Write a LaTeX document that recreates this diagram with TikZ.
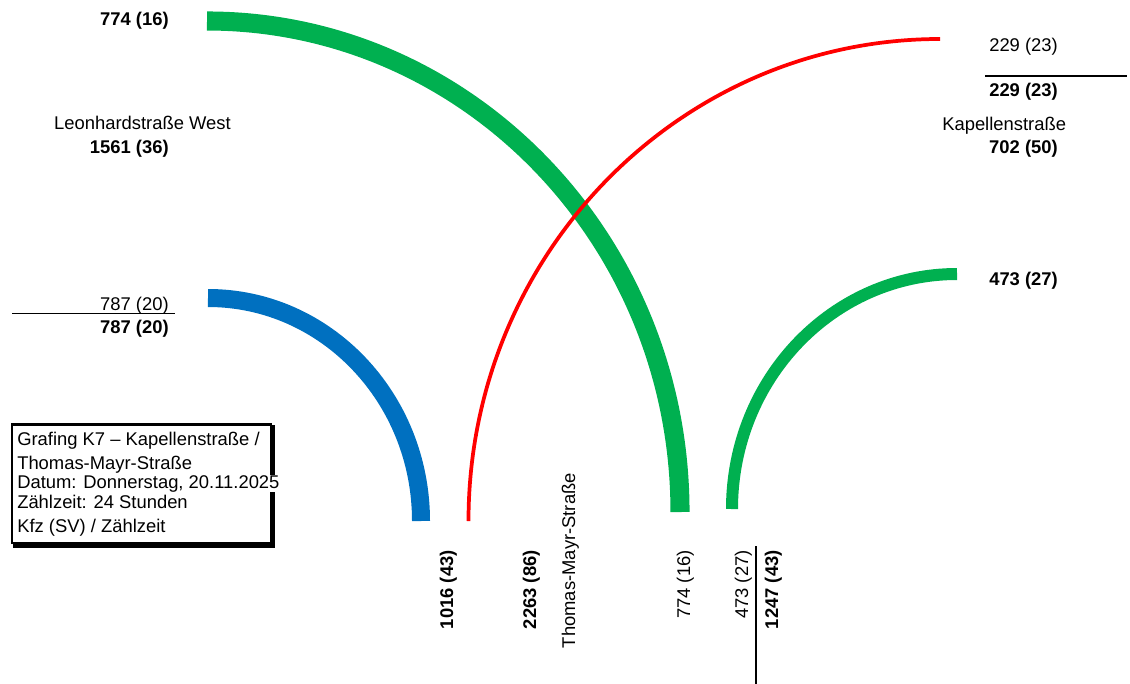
\documentclass[tikz,border=0pt]{standalone}
\usepackage{fontspec}
\setmainfont{Liberation Sans}
\definecolor{kfzgreen}{HTML}{00B050}
\definecolor{kfzblue}{HTML}{0070C0}
\definecolor{kfzred}{HTML}{FF0000}

\begin{document}
\begin{tikzpicture}[x=0.75pt,y=-0.75pt,
  lbl/.style={inner sep=0pt,font=\fontsize{13.8}{16}\selectfont},
  lblb/.style={inner sep=0pt,font=\fontsize{13.8}{16}\selectfont\bfseries}]
\useasboundingbox (0,0) rectangle (1130,684);
% flows
\draw[kfzgreen,line width=14.3pt] (207,21) arc[start angle=-90,end angle=0,x radius=473,y radius=491];
\draw[kfzblue,line width=13.5pt] (208,298) arc[start angle=-90,end angle=0,x radius=213,y radius=223];
\draw[kfzgreen,line width=9pt] (957,274) arc[start angle=-90,end angle=-180,x radius=225,y radius=235];
\draw[kfzred,line width=2.8pt] (940,39) arc[start angle=-90,end angle=-180,x radius=471.5,y radius=482];
% west arm
\node[lblb,anchor=base east] (w_in) at (169,26) {774 (16)};
\node[lbl,anchor=base east] (w_name) at (231,130) {Leonhardstraße West};
\node[lblb,anchor=base east] (w_sum) at (169,154) {1561 (36)};
\node[lbl,anchor=base east] (w_out) at (169,310) {787 (20)};
\draw[line width=1.4pt] (12,313.5)--(175,313.5);
\node[lblb,anchor=base east] (w_outsum) at (169,333) {787 (20)};
% east arm
\node[lbl,anchor=base west] (e_out) at (989,52) {229 (23)};
\draw[line width=1.4pt] (985,76)--(1127,76);
\node[lblb,anchor=base west] (e_outsum) at (989,97) {229 (23)};
\node[lbl,anchor=base west] (e_name) at (942,131) {Kapellenstraße};
\node[lblb,anchor=base east] (e_sum) at (1058,154) {702 (50)};
\node[lblb,anchor=base west] (e_in) at (989,285) {473 (27)};
% south arm
\node[lblb,rotate=90,anchor=base east] (s_out) at (453,550) {1016 (43)};
\node[lblb,rotate=90,anchor=base east] (s_sum) at (536,550) {2263 (86)};
\node[lbl,rotate=90,anchor=base east] (s_name) at (575,473) {Thomas-Mayr-Straße};
\node[lbl,rotate=90,anchor=base east] (s_in1) at (690,550) {774 (16)};
\node[lbl,rotate=90,anchor=base east] (s_in2) at (748,550) {473 (27)};
\draw[line width=1.4pt] (756,546)--(756,684);
\node[lblb,rotate=90,anchor=base east] (s_insum) at (778,550) {1247 (43)};
% info box
\draw[line width=1.1pt] (12,424) rectangle (271,543);
\draw[line width=1.6pt] (12,424.5)--(272,424.5);
\draw[line width=2.3pt] (273.5,425)--(273.5,546)--(13,546);
\node[lbl,anchor=base west] (i1) at (17,445) {Grafing K7 – Kapellenstraße /};
\node[lbl,anchor=base west] (i2) at (17,469) {Thomas-Mayr-Straße};
\node[lbl,anchor=base west,fill=white] (i3) at (17,488) {Datum: Donnerstag, 20.11.2025};
\node[lbl,anchor=base west] (i4) at (17,508) {Zählzeit: 24 Stunden};
\node[lbl,anchor=base west] (i5) at (17,532) {Kfz (SV) / Zählzeit};
\end{tikzpicture}
\end{document}
